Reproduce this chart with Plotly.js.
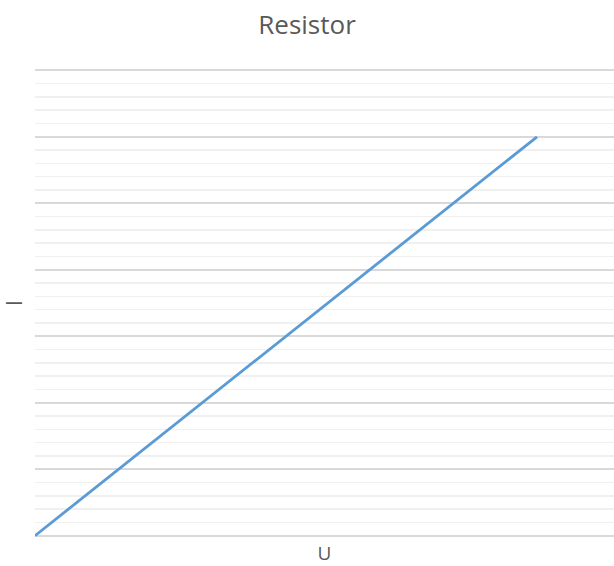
<!DOCTYPE html>
<html>
<head>
<meta charset="utf-8">
<script src="https://cdn.plot.ly/plotly-3.0.1.min.js"></script>
<style>html,body{margin:0;padding:0;background:#fff;}#chart{width:614px;height:566px;}</style>
</head>
<body>
<div id="chart"></div>
<script>
const chartTitle = "Resistor";
const xTitle = "U";
const yTitle = "I";
const U = [0, 1, 2, 3, 4, 5, 6];
const I = [0, 1, 2, 3, 4, 5, 6];
const majorTicks = [0, 1, 2, 3, 4, 5, 6, 7];
const minorTicks = [];
majorTicks.slice(0, -1).forEach(function (m) {
  [0.2, 0.4, 0.6, 0.8].forEach(function (f) { minorTicks.push(m + f); });
});

const data = [{
  x: U, y: I, type: 'scatter', mode: 'lines',
  line: {color: '#5B9BD5', width: 2.8},
  hoverinfo: 'skip', cliponaxis: false
}];

const layout = {
  width: 614, height: 566,
  paper_bgcolor: '#ffffff', plot_bgcolor: '#ffffff',
  margin: {l: 35, r: 0, t: 67, b: 27},
  showlegend: false,
  title: {
    text: chartTitle,
    font: {family: 'Open Sans', size: 26, color: '#595959'},
    x: 0.5, xanchor: 'center', xref: 'container',
    y: 1 - 25/566, yanchor: 'middle', yref: 'container'
  },
  xaxis: {
    range: [0, 6.92], showgrid: false, zeroline: false, showline: false,
    showticklabels: false, ticks: '', fixedrange: true,
    title: {text: xTitle, font: {family: 'Open Sans', size: 19, color: '#595959'}}
  },
  yaxis: {
    range: [-0.05, 7.05], tickmode: 'array', tickvals: majorTicks,
    showgrid: true, gridcolor: '#d9d9d9', gridwidth: 2,
    zeroline: false,
    showline: false, showticklabels: false, ticks: '',
    minor: {tickmode: 'array', tickvals: minorTicks, showgrid: true, gridcolor: '#f0f0f0', gridwidth: 1.5},
    title: {text: yTitle, font: {family: 'Open Sans', size: 21, color: '#595959'}}
  }
};

Plotly.newPlot('chart', data, layout, {staticPlot: true, displayModeBar: false});
</script>
</body>
</html>
